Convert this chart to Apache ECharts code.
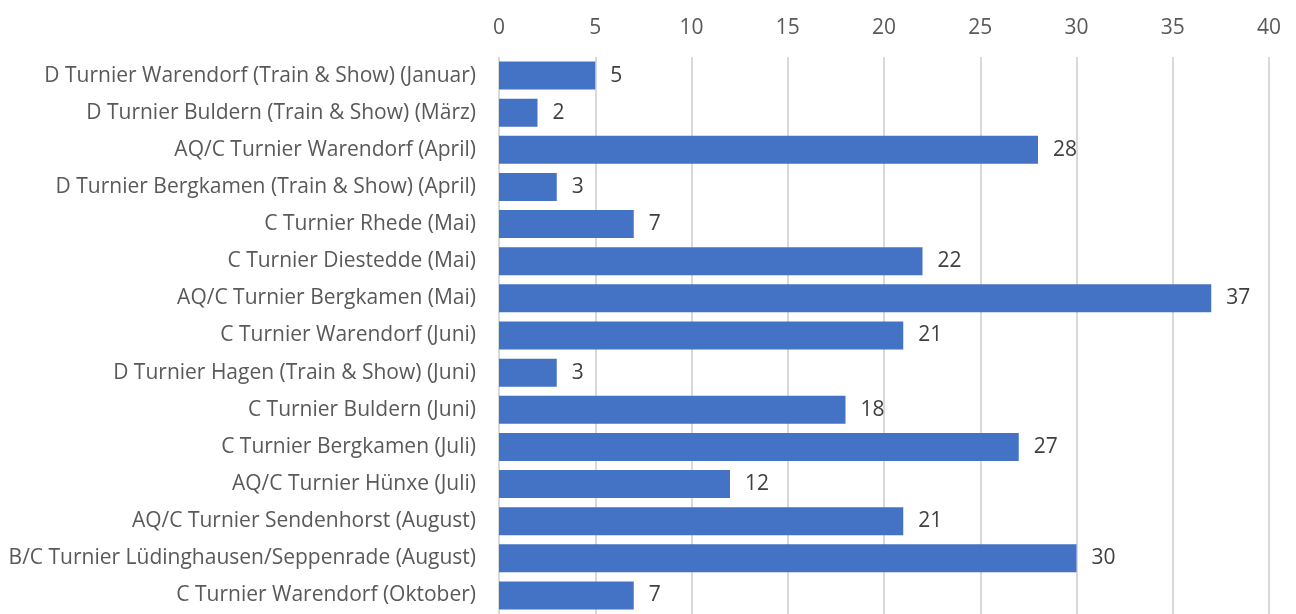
<!DOCTYPE html>
<html>
<head>
<meta charset="utf-8">
<script src="https://cdn.jsdelivr.net/npm/echarts@6/dist/echarts.min.js"></script>
<style>
  html, body { margin: 0; padding: 0; background: #fff; }
  #chart { width: 1296px; height: 614px; }
</style>
</head>
<body>
<div id="chart"></div>
<script>
// Turniere, von oben nach unten
var categories = [
    'D Turnier Warendorf (Train & Show) (Januar)',
    'D Turnier Buldern (Train & Show) (März)',
    'AQ/C Turnier Warendorf (April)',
    'D Turnier Bergkamen (Train & Show) (April)',
    'C Turnier Rhede (Mai)',
    'C Turnier Diestedde (Mai)',
    'AQ/C Turnier Bergkamen (Mai)',
    'C Turnier Warendorf (Juni)',
    'D Turnier Hagen (Train & Show) (Juni)',
    'C Turnier Buldern (Juni)',
    'C Turnier Bergkamen (Juli)',
    'AQ/C Turnier Hünxe (Juli)',
    'AQ/C Turnier Sendenhorst (August)',
    'B/C Turnier Lüdinghausen/Seppenrade (August)',
    'C Turnier Warendorf (Oktober)'
];
var values = [5, 2, 28, 3, 7, 22, 37, 21, 3, 18, 27, 12, 21, 30, 7];
var axisMin = 0, axisMax = 40, axisStep = 5;

var font = 'Open Sans';
var myChart = echarts.init(document.getElementById('chart'));
var option = {
    animation: false,
    grid: {
        left: 499,
        right: 27,
        top: 57,
        bottom: -7,
        containLabel: false
    },
    xAxis: {
        type: 'value',
        position: 'top',
        min: axisMin,
        max: axisMax,
        interval: axisStep,
        axisLine: { show: false },
        axisTick: { show: false },
        axisLabel: {
            margin: 18,
            color: '#595959',
            fontFamily: font,
            fontSize: 21
        },
        splitLine: {
            show: true,
            lineStyle: { color: '#D9D9D9', width: 2 }
        }
    },
    yAxis: {
        type: 'category',
        inverse: true,
        data: categories,
        axisLine: { show: false },
        axisTick: { show: false },
        axisLabel: {
            margin: 23,
            padding: [4, 0, 0, 0],
            color: '#595959',
            fontFamily: font,
            fontSize: 21
        }
    },
    series: [{
        type: 'bar',
        data: values,
        barWidth: 28,
        itemStyle: { color: '#4472C4' },
        label: {
            show: true,
            position: 'right',
            distance: 15,
            padding: [5, 0, 0, 0],
            color: '#404040',
            fontFamily: font,
            fontSize: 21
        }
    }]
};
myChart.setOption(option);
</script>
</body>
</html>
